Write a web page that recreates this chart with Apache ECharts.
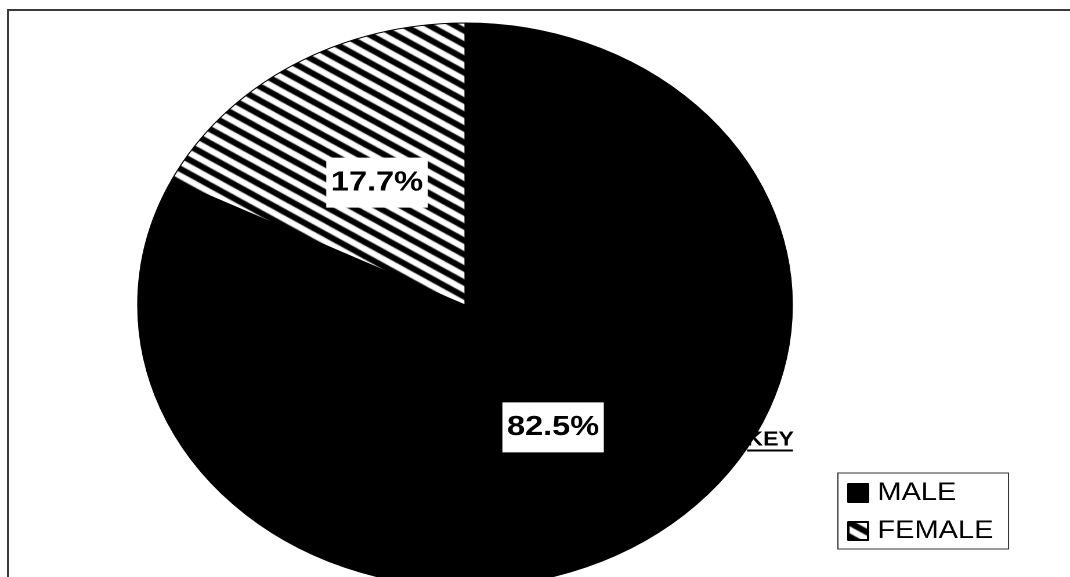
<!DOCTYPE html>
<html>
<head>
<meta charset="utf-8">
<script src="https://cdn.jsdelivr.net/npm/echarts@6/dist/echarts.min.js"></script>
<style>
  html, body { margin: 0; padding: 0; background: #fff; overflow: hidden; }
  body { width: 1070px; height: 577px; position: relative; }
  #frame {
    position: absolute; left: 7px; top: 9px; width: 1100px; height: 600px;
    border-top: 2px solid #3a3a3a; border-left: 2px solid #3a3a3a;
  }
  #chart {
    position: absolute; left: 0; top: 0; width: 922px; height: 577px;
    transform: scaleX(1.16052); transform-origin: 0 0;
  }
</style>
</head>
<body>
<div id="frame"></div>
<div id="chart"></div>
<script>
// Respondents by gender (percent)
const categories = ['MALE', 'FEMALE'];
const values = [82.5, 17.7];
const keyTitle = 'KEY';

const DPR = 2;

// Diagonal hatch tile for the FEMALE slice (drawn at device resolution)
function hatchTile() {
  const w = 11 * DPR, h = 7 * DPR;
  const c = document.createElement('canvas');
  c.width = w; c.height = h;
  const ctx = c.getContext('2d');
  ctx.fillStyle = '#fff';
  ctx.fillRect(0, 0, w, h);
  ctx.strokeStyle = '#000';
  ctx.lineWidth = 2.9 * DPR;
  for (let k = -2; k <= 2; k++) {
    ctx.beginPath();
    ctx.moveTo(-w, k * h - h);
    ctx.lineTo(2 * w, k * h + 2 * h);
    ctx.stroke();
  }
  return c;
}

const fills = ['#000', { image: hatchTile(), repeat: 'repeat' }];

const chart = echarts.init(document.getElementById('chart'), null, { devicePixelRatio: DPR });

chart.setOption({
  animation: false,
  textStyle: { fontFamily: 'Liberation Sans, Arial, sans-serif' },
  legend: {
    orient: 'vertical',
    left: 722,
    top: 473,
    padding: [7, 13, 5, 8],
    itemGap: 12,
    itemWidth: 17,
    itemHeight: 18,
    icon: 'rect',
    borderColor: '#333',
    borderWidth: 1,
    data: categories,
    textStyle: {
      fontSize: 25,
      lineHeight: 26,
      color: '#000',
      padding: [0, 0, 0, 3],
      fontFamily: 'Liberation Sans, Arial, sans-serif'
    }
  },
  graphic: [
    {
      type: 'text',
      left: 643,
      top: 430,
      z: 100,
      style: {
        text: keyTitle,
        fill: '#000',
        font: 'bold 20px "Liberation Sans", Arial, sans-serif'
      }
    },
    {
      type: 'line',
      z: 100,
      shape: { x1: 643.7, y1: 450.5, x2: 683.3, y2: 450.5 },
      style: { stroke: '#000', lineWidth: 2 }
    }
  ],
  series: [{
    type: 'pie',
    center: [400.7, 305],
    radius: 282,
    startAngle: 90,
    clockwise: true,
    avoidLabelOverlap: false,
    label: {
      show: true,
      position: 'inside',
      formatter: '{c}%',
      color: '#000',
      fontSize: 28,
      fontWeight: 'bold',
      lineHeight: 32,
      backgroundColor: '#fff',
      padding: [9, 4],
      fontFamily: 'Liberation Sans, Arial, sans-serif'
    },
    labelLine: { show: false },
    itemStyle: { borderColor: '#000', borderWidth: 1 },
    emphasis: { disabled: true },
    data: categories.map((name, i) => ({
      name: name,
      value: values[i],
      itemStyle: { color: fills[i] }
    }))
  }]
});
</script>
</body>
</html>
